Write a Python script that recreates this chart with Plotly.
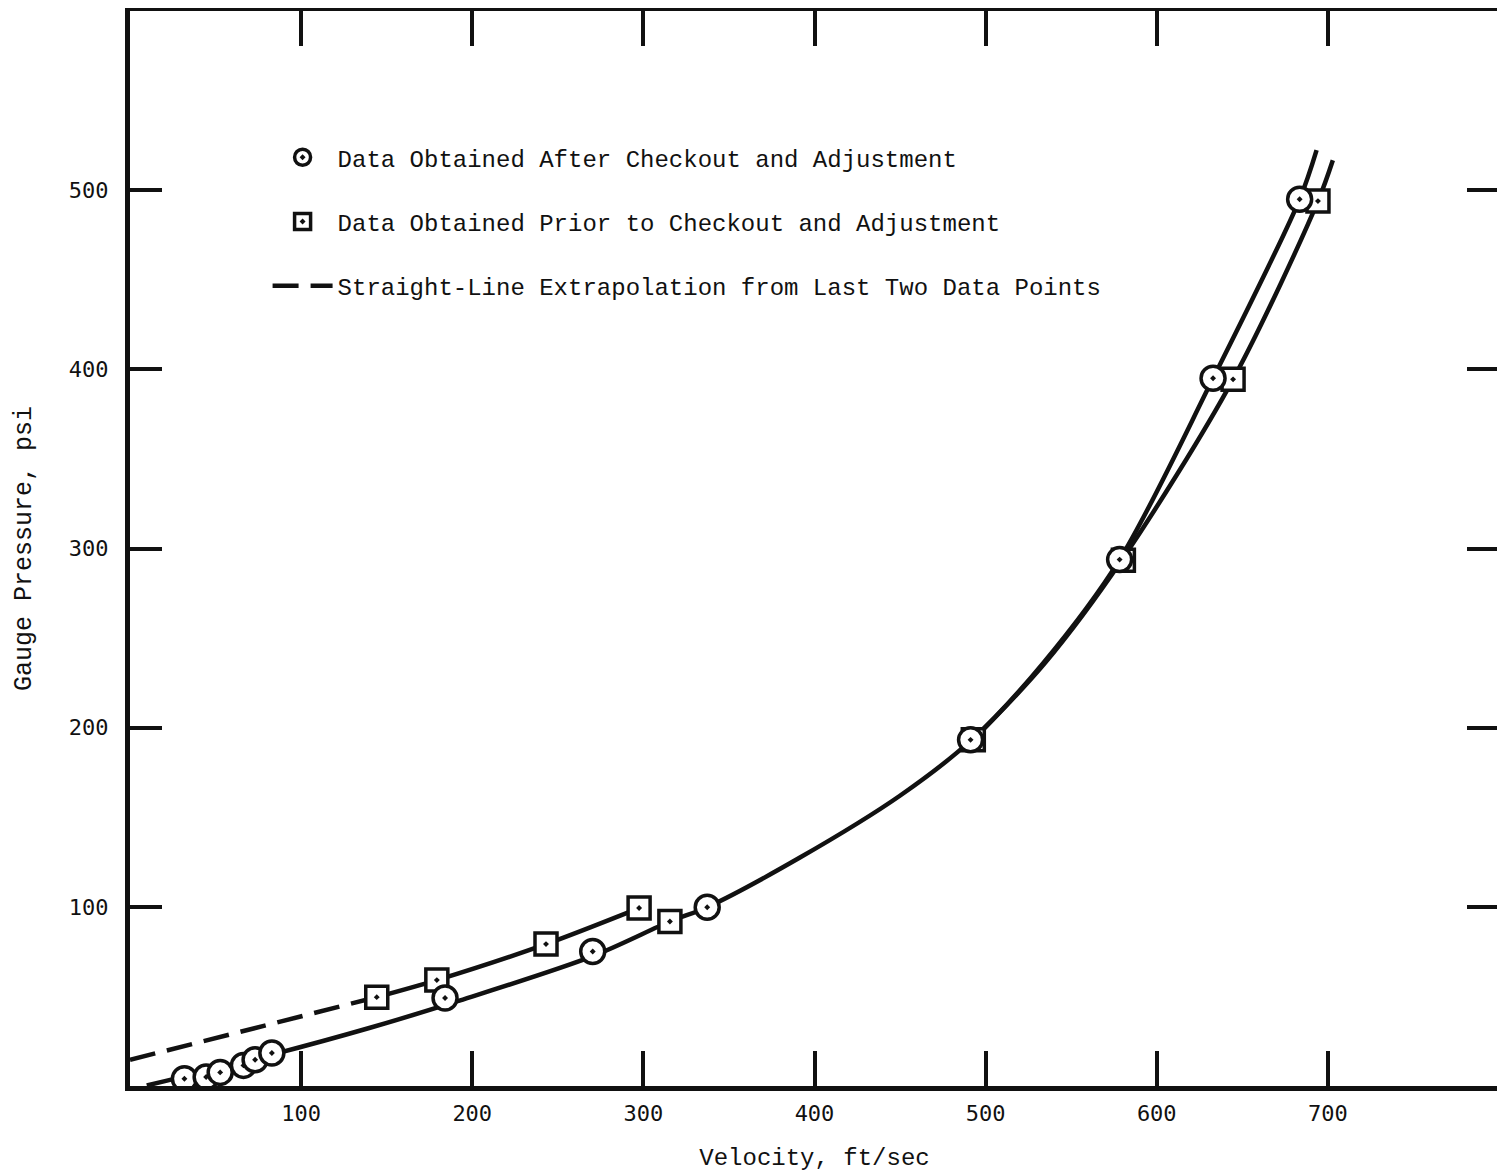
import plotly.graph_objects as go

# ---- data ----
# Data Obtained After Checkout and Adjustment (circles)
after_v = [31.8, 44.5, 52.7, 66.3, 73.1, 82.9, 184.1, 270.4, 337.3, 491.2, 578.3, 632.9, 683.5]
after_p = [4.0, 5.0, 7.6, 11.5, 14.6, 18.4, 49.1, 75.1, 99.8, 193.2, 293.8, 395.0, 494.9]

# Data Obtained Prior to Checkout and Adjustment (squares)
prior_v = [144.2, 179.3, 243.1, 297.5, 315.5, 492.8, 580.5, 644.6, 694.2]
prior_p = [49.6, 59.1, 79.2, 99.3, 91.8, 193.2, 293.5, 394.4, 493.9]

# Faired curves
fit_after_v = [9.8, 82.9, 140.3, 190.9, 270.4, 315.5, 337.3, 391.5, 449.9, 491.8, 533.5, 578.3, 632.9, 683.5, 693.4]
fit_after_p = [0.3, 17.5, 32.5, 47.2, 72.5, 91.8, 99.8, 127.5, 162.0, 193.2, 235.9, 293.8, 395.0, 494.9, 522.3]

fit_prior_high_v = [492.8, 534.5, 579.5, 644.6, 694.2, 702.9]
fit_prior_high_p = [193.2, 235.9, 293.5, 394.4, 493.9, 516.7]

fit_prior_low_v = [144.2, 179.3, 243.1, 297.5]
fit_prior_low_p = [49.6, 59.1, 79.2, 99.3]

# Straight-line extrapolation
extrap_v = [0.0, 144.2]
extrap_p = [14.6, 49.6]

x_ticks = [100, 200, 300, 400, 500, 600, 700]
y_ticks = [100, 200, 300, 400, 500]

TXT = "Liberation Mono"
NUM = "DejaVu Sans Mono"
INK = "#111111"

fig = go.Figure()

line_style = dict(color=INK, width=4.5)
fig.add_trace(go.Scatter(x=fit_after_v, y=fit_after_p, mode="lines",
                         line=dict(shape="spline", smoothing=0.9, **line_style),
                         showlegend=False, hoverinfo="skip"))
fig.add_trace(go.Scatter(x=fit_prior_high_v, y=fit_prior_high_p, mode="lines",
                         line=dict(shape="spline", smoothing=0.9, **line_style),
                         showlegend=False, hoverinfo="skip"))
fig.add_trace(go.Scatter(x=fit_prior_low_v, y=fit_prior_low_p, mode="lines",
                         line=dict(shape="spline", smoothing=0.8, **line_style),
                         showlegend=False, hoverinfo="skip"))
fig.add_trace(go.Scatter(x=extrap_v, y=extrap_p, mode="lines",
                         name="Straight-Line Extrapolation from Last Two Data Points",
                         line=dict(color=INK, width=4.5, dash="26px,12px"),
                         legendgroup="c", legendrank=3))

fig.add_trace(go.Scatter(x=prior_v, y=prior_p, mode="markers",
                         name="Data Obtained Prior to Checkout and Adjustment",
                         marker=dict(symbol="square-dot", size=22, color="white",
                                     line=dict(color=INK, width=3.5)),
                         legendgroup="b", legendrank=2))
fig.add_trace(go.Scatter(x=after_v, y=after_p, mode="markers",
                         name="Data Obtained After Checkout and Adjustment",
                         marker=dict(symbol="circle-dot", size=24, color="white",
                                     line=dict(color=INK, width=3.5)),
                         legendgroup="a", legendrank=1))

axis_common = dict(showgrid=False, zeroline=False, showline=True, linecolor=INK,
                   linewidth=5, mirror="ticks", ticks="inside", tickcolor=INK,
                   tickwidth=4, tickfont=dict(family=NUM, size=22, color=INK))

fig.update_xaxes(range=[0, 800], tickvals=x_ticks, ticklen=35,
                 ticklabelstandoff=4,
                 title=dict(text="Velocity, ft/sec", standoff=24,
                            font=dict(family=TXT, size=24, color=INK)),
                 **axis_common)
fig.update_yaxes(range=[0, 600], tickvals=y_ticks, ticklen=32,
                 ticklabelstandoff=12,
                 title=dict(text="Gauge Pressure, psi", standoff=32,
                            font=dict(family=TXT, size=25, color=INK)),
                 **axis_common)

# page body has an 8px margin, so the figure is sized to fit inside the window
fig.update_layout(
    width=1497, height=1166,
    margin=dict(l=122, r=6, t=3, b=88, autoexpand=False),
    paper_bgcolor="white", plot_bgcolor="white",
    showlegend=True,
    legend=dict(x=0.1005, y=0.8845, xanchor="left", yanchor="top",
                bgcolor="rgba(0,0,0,0)", borderwidth=0,
                font=dict(family=TXT, size=24, color=INK),
                itemwidth=60, tracegroupgap=30, traceorder="grouped"),
    font=dict(family=TXT, color=INK),
)

fig.write_html("out.html")
